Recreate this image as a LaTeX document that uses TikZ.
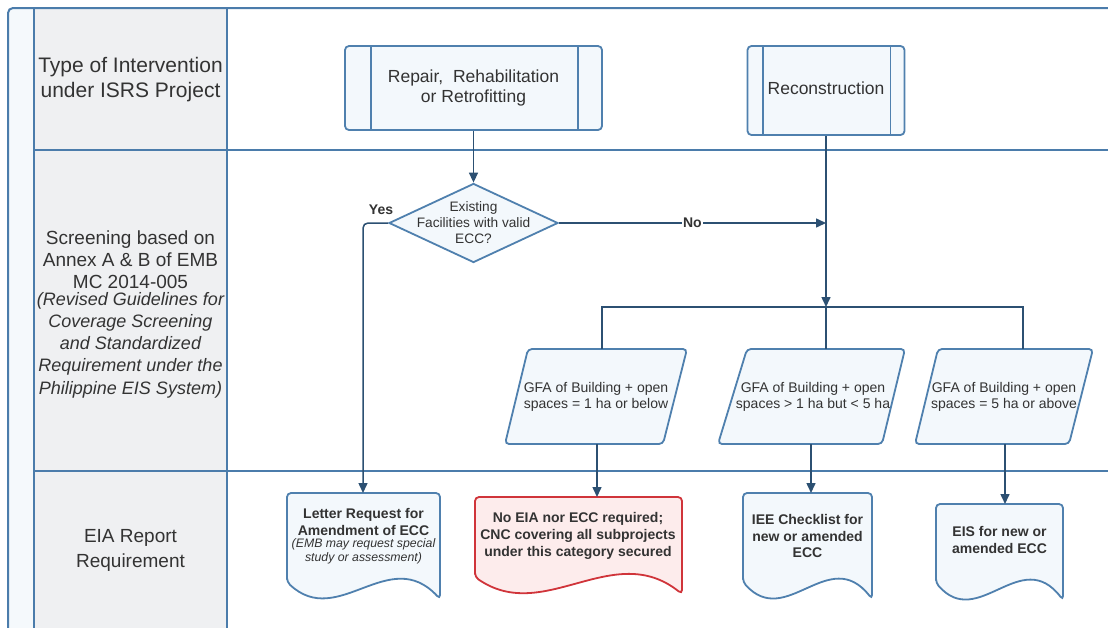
\documentclass[tikz,border=0pt]{standalone}
\usepackage{fontspec}
\setmainfont{Liberation Sans}
\usetikzlibrary{shapes.geometric,arrows.meta}
\definecolor{lane}{HTML}{4B7CAB}
\definecolor{edgec}{HTML}{4F80AE}
\definecolor{arr}{HTML}{2C5072}
\definecolor{boxfill}{HTML}{F3F8FC}
\definecolor{stripfill}{HTML}{F5F9FC}
\definecolor{greyfill}{HTML}{EFF0F2}
\definecolor{txt}{HTML}{333333}
\definecolor{redline}{HTML}{D0343A}
\definecolor{redfill}{HTML}{FDECEC}
\newcommand\docpath[5]{% #1 L, #2 R, #3 top, #4 bottom-left y, #5 style
  \pgfmathsetmacro\dw{#2-#1}%
  \draw[#5] (#1,#4) -- (#1,#3) -- (#2,#3) -- (#2,#4+17)
    .. controls ({#1+2*\dw/3},#4-38) and ({#1+\dw/3},#4+48) .. (#1,#4) -- cycle;}
\begin{document}
\begin{tikzpicture}[x=1pt,y=-1pt,
  lanel/.style={draw=lane,line width=2pt},
  shp/.style={draw=edgec,line width=1.8pt,fill=boxfill,rounded corners=4pt},
  redshp/.style={draw=redline,line width=1.8pt,fill=redfill,rounded corners=4pt},
  conn/.style={draw=arr,line width=1.5pt},
  arrow/.style={conn,-{Triangle[length=10pt,width=9pt]}},
  lbl/.style={text=txt,align=center,inner sep=0pt},
  colfont/.style={font=\fontsize{19}{22.2}\selectfont},
  colifont/.style={font=\itshape\fontsize{18}{22.2}\selectfont},
  boxfont/.style={font=\fontsize{17.5}{20.5}\selectfont},
  smallfont/.style={font=\fontsize{14}{16.6}\selectfont},
  docfont/.style={font=\bfseries\fontsize{14}{16.7}\selectfont},
  docifont/.style={font=\itshape\fontsize{12.3}{14.8}\selectfont},
  ynfont/.style={font=\bfseries\fontsize{14}{16}\selectfont},
]
\useasboundingbox (0,0) rectangle (1108,627);
\clip (0,0) rectangle (1108,627);
\fill[white] (0,0) rectangle (1108,627);
% swimlane table
\fill[stripfill, rounded corners=5pt] (8,660) -- (8,8) -- (40,8) -- (40,660) -- cycle;
\fill[greyfill] (34,8) rectangle (227,660);
\draw[lanel, rounded corners=5pt] (8,660) -- (8,8) -- (1130,8);
\draw[lanel] (34,8) -- (34,660);
\draw[lanel] (227,8) -- (227,660);
\draw[lanel] (34,150) -- (1130,150);
\draw[lanel] (34,471) -- (1130,471);
% lane labels
\node[lbl, font=\fontsize{21}{25}\selectfont] (lane1) at (130.5,79.5) {Type of Intervention\\under ISRS Project};
\node[lbl, colfont, anchor=south] (lane2) at (130.5,289) {Screening based on\\Annex A \& B of EMB\\MC 2014-005};
\node[lbl, colifont, anchor=north] (lane2i) at (130.5,292) {(Revised Guidelines for\\Coverage Screening\\and Standardized\\Requirement under the\\Philippine EIS System)};
\node[lbl, font=\fontsize{19}{25}\selectfont] (lane3) at (130.5,550) {EIA Report\\Requirement};
% row 1 boxes
\node[shp, minimum width=257pt, minimum height=84pt, inner sep=0pt] (repair) at (473.5,88) {};
\draw[draw=edgec,line width=1.8pt] ([xshift=27pt]repair.north west) -- ([xshift=27pt]repair.south west);
\draw[draw=edgec,line width=1.8pt] ([xshift=-25pt]repair.north east) -- ([xshift=-25pt]repair.south east);
\node[lbl, boxfont] (repairtxt) at (473.5,88) {Repair,\ \ Rehabilitation\\or Retrofitting};
\node[shp, minimum width=157pt, minimum height=89pt, inner sep=0pt] (recon) at (826,90.5) {};
\draw[draw=edgec,line width=1.8pt] ([xshift=16pt]recon.north west) -- ([xshift=16pt]recon.south west);
\draw[draw=edgec,line width=1.8pt] ([xshift=-15pt]recon.north east) -- ([xshift=-15pt]recon.south east);
\node[lbl, boxfont] (recontxt) at (826,88) {Reconstruction};
% decision
\node[diamond, draw=edgec, line width=1.8pt, fill=boxfill, minimum width=169pt, minimum height=79pt, inner sep=0pt] (dec) at (473.5,223) {};
\node[lbl, font=\fontsize{13.7}{16}\selectfont] (dectxt) at (473.5,223) {Existing\\Facilities with valid\\ECC?};
% parallelograms
\draw[shp] (528,349) -- (687,349) -- (663,444) -- (505,444) -- cycle;
\node[lbl, smallfont] (par1) at (596,397) {GFA of Building + open\\spaces = 1 ha or below};
\draw[shp] (747,349) -- (905,349) -- (882,444) -- (718,444) -- cycle;
\node[lbl, smallfont] (par2) at (813,397) {GFA of Building + open\\spaces > 1 ha but < 5 ha};
\draw[shp] (938,349) -- (1093,349) -- (1069,444) -- (915,444) -- cycle;
\node[lbl, smallfont] (par3) at (1004,397) {GFA of Building + open\\spaces = 5 ha or above};
\coordinate (par1N) at (602,349);
\coordinate (par2N) at (826,349);
\coordinate (par3N) at (1023,349);
\coordinate (par1S) at (597,444);
\coordinate (par2S) at (811,444);
\coordinate (par3S) at (1005,444);
\coordinate (branchC) at (826,307);
\coordinate (noend) at (826,223);
% documents
\docpath{287}{440}{493}{582}{shp}
\node[lbl, docfont, anchor=south] (letter) at (363.5,536) {Letter Request for\\Amendment of ECC};
\node[lbl, docifont, anchor=north] (letteri) at (363.5,538) {(EMB may request special\\study or assessment)};
\coordinate (letterN) at (363,493);
\docpath{475}{682}{497}{577}{redshp}
\node[lbl, docfont] (noeia) at (578,536) {No EIA nor ECC required;\\CNC covering all subprojects\\under this category secured};
\coordinate (noeiaN) at (597,497);
\docpath{743}{872}{493}{582}{shp}
\node[lbl, docfont] (iee) at (807.5,536) {IEE Checklist for\\new or amended\\ECC};
\coordinate (ieeN) at (811,493);
\docpath{936}{1063}{504}{583}{shp}
\node[lbl, docfont] (eis) at (999.5,540) {EIS for new or\\amended ECC};
\coordinate (eisN) at (1005,504);
% connectors
\draw[arrow] (repair.south) -- (dec.north);
\draw[arrow, rounded corners=5pt] (dec.west) -| (letterN);
\node[lbl, ynfont] (yes) at (381,210) {Yes};
\draw[arrow] (dec.east) -- node[ynfont, fill=white, inner sep=1pt, text=txt] (no) {No} (noend);
\draw[arrow] (recon.south) -- (branchC);
\draw[conn] (par1N) |- (branchC) -| (par3N);
\draw[conn] (branchC) -- (par2N);
\draw[arrow] (par1S) -- (noeiaN);
\draw[arrow] (par2S) -- (ieeN);
\draw[arrow] (par3S) -- (eisN);
\end{tikzpicture}
\end{document}
